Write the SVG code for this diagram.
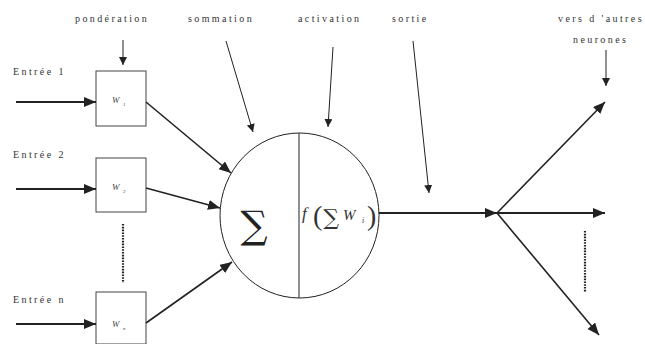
<svg xmlns="http://www.w3.org/2000/svg" width="645" height="344" viewBox="0 0 645 344">
<style>
.lbl{font-family:"Liberation Serif",serif;font-size:10px;letter-spacing:2.4px;fill:#333}
.box{fill:#fff;stroke:#444;stroke-width:1}
.w{font-family:"Liberation Serif",serif;font-style:italic;font-size:9px;fill:#444}
.ws{font-family:"Liberation Serif",serif;font-style:italic;font-size:5px;fill:#444}
.fx{font-family:"Liberation Serif",serif;fill:#333}
.thick{stroke:#222;stroke-width:2.2;fill:none}
.mid{stroke:#222;stroke-width:1.6;fill:none}
.thin{stroke:#222;stroke-width:1;fill:none}
.dot{stroke:#222;stroke-width:2.2;stroke-dasharray:1.6 1.2;fill:none}
</style>
<defs>
<marker id="ah" markerUnits="userSpaceOnUse" markerWidth="14" markerHeight="12" refX="12" refY="5" orient="auto"><path d="M0,0 L12,5 L0,10 Z" fill="#222"/></marker>
<marker id="as" markerUnits="userSpaceOnUse" markerWidth="10" markerHeight="10" refX="8" refY="4" orient="auto"><path d="M0,0 L8,4 L0,8 Z" fill="#222"/></marker>
</defs>
<g id="labels">
<text class="lbl" x="75" y="22">pondération</text>
<text class="lbl" x="188" y="22">sommation</text>
<text class="lbl" x="298" y="22">activation</text>
<text class="lbl" x="392" y="22">sortie</text>
<text class="lbl" x="558" y="22">vers d 'autres</text>
<text class="lbl" x="573" y="43">neurones</text>
<text class="lbl" x="13" y="75">Entrée 1</text>
<text class="lbl" x="13" y="158">Entrée 2</text>
<text class="lbl" x="13" y="303">Entrée n</text>
</g>
<g id="w1"><rect class="box" x="96" y="71" width="50" height="55"/><text class="w" x="112" y="103">W</text><text class="ws" x="123" y="106">1</text></g>
<g id="w2"><rect class="box" x="96" y="158" width="50" height="54"/><text class="w" x="112" y="190">W</text><text class="ws" x="123" y="193">2</text></g>
<g id="wn"><rect class="box" x="96" y="292" width="50" height="52"/><text class="w" x="112" y="327">W</text><text class="ws" x="123" y="330">n</text></g>
<g id="neuron">
<ellipse cx="299.5" cy="215.5" rx="79.5" ry="82.5" fill="#fff" stroke="#222" stroke-width="1"/>
<line x1="299" y1="133" x2="299" y2="298" stroke="#222" stroke-width="1"/>
<text x="254" y="238" text-anchor="middle" font-family="DejaVu Serif,serif" font-size="38" fill="#222">∑</text>
<text class="fx" x="302" y="219" font-size="17" font-style="italic">f</text>
<text class="fx" x="313" y="225" font-size="28">(</text>
<text x="331" y="225" text-anchor="middle" font-family="DejaVu Serif,serif" font-size="22" fill="#333">∑</text>
<text class="fx" x="343" y="220" font-size="15" font-style="italic">W</text>
<text class="fx" x="362" y="223" font-size="8" font-style="italic">i</text>
<text class="fx" x="367" y="225" font-size="28">)</text>
</g>
<g id="connectors">
<line class="thick" x1="16" y1="102" x2="96" y2="102" marker-end="url(#ah)"/>
<line class="thick" x1="16" y1="189" x2="96" y2="189" marker-end="url(#ah)"/>
<line class="thick" x1="16" y1="324" x2="96" y2="324" marker-end="url(#ah)"/>
<line class="mid" x1="146" y1="102" x2="231" y2="173" marker-end="url(#ah)"/>
<line class="mid" x1="146" y1="188" x2="220" y2="208" marker-end="url(#ah)"/>
<line class="mid" x1="146" y1="323" x2="232" y2="262" marker-end="url(#ah)"/>
<line class="thin" x1="123" y1="40" x2="123" y2="65" marker-end="url(#as)"/>
<line class="thin" x1="226" y1="41" x2="253" y2="132" marker-end="url(#as)"/>
<line class="thin" x1="333" y1="47" x2="328" y2="127" marker-end="url(#as)"/>
<line class="thin" x1="413" y1="41" x2="429" y2="193" marker-end="url(#as)"/>
<line class="thin" x1="606" y1="50" x2="606" y2="86" marker-end="url(#as)"/>
<line class="thick" x1="379" y1="213" x2="497" y2="213" marker-end="url(#ah)"/>
<line class="mid" x1="497" y1="213" x2="605" y2="102" marker-end="url(#ah)"/>
<line class="thick" x1="497" y1="213" x2="605" y2="213" marker-end="url(#ah)"/>
<line class="mid" x1="497" y1="213" x2="599" y2="335" marker-end="url(#ah)"/>
<line class="dot" x1="123" y1="224" x2="123" y2="283"/>
<line class="dot" x1="585" y1="231" x2="585" y2="292"/>
</g>
</svg>
